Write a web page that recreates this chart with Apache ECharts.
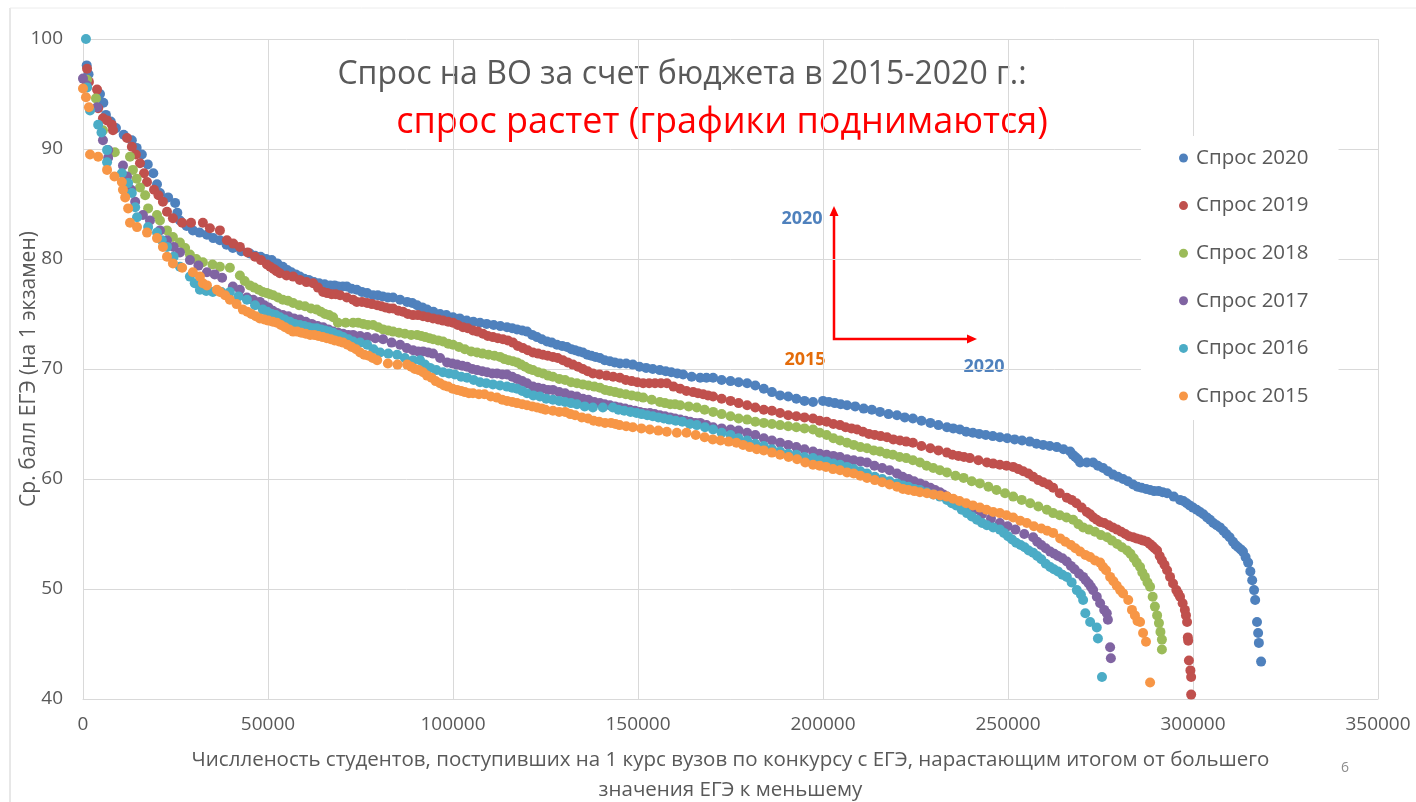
<!DOCTYPE html>
<html><head><meta charset="utf-8">
<script src="https://cdn.jsdelivr.net/npm/echarts@6/dist/echarts.min.js"></script>
<style>html,body{margin:0;padding:0;background:#fff;overflow:hidden}#c{width:1416px;height:802px}</style>
</head><body><div id="c"></div>
<script>
const seriesNames = ['Спрос 2020','Спрос 2019','Спрос 2018','Спрос 2017','Спрос 2016','Спрос 2015'];
const xTicks = [0,50000,100000,150000,200000,250000,300000,350000];
const yTicks = [40,50,60,70,80,90,100];

const s2020 = [[1000,97.6],[1500,96.8],[4600,95.0],[5500,94.2],[6200,93.1],[7500,92.5],[8900,91.9],[11000,91.3],[13200,90.8],[14500,90.1],[15900,89.5],[17500,88.6],[19000,87.8],[20000,86.8],[20800,86.0],[23000,85.6],[24900,85.1],[25500,84.2],[26200,83.5],[28000,83.0],[29700,82.6],[31500,82.4],[33500,82.2],[35200,81.9],[37000,81.7],[38800,81.3],[40500,81.0],[42800,80.7],[45100,80.5],[46500,80.3],[48000,80.2],[49500,80.0],[51000,79.9],[52500,79.6],[54000,79.3],[55200,79.0],[56300,78.8],[57500,78.6],[58600,78.4],[59800,78.2],[61000,78.1],[62400,77.9],[63800,77.8],[65300,77.7],[66800,77.6],[68000,77.6],[69000,77.5],[70200,77.5],[71300,77.5],[72600,77.3],[74000,77.2],[75400,77.0],[76800,76.9],[78400,76.7],[79700,76.7],[81000,76.6],[82400,76.5],[83800,76.5],[85700,76.3],[87600,76.1],[89000,76.0],[90300,75.8],[91700,75.6],[93000,75.4],[94700,75.2],[96500,75.0],[98200,74.9],[100000,74.7],[101800,74.6],[103700,74.4],[105500,74.3],[107300,74.2],[109100,74.1],[111000,74.0],[112800,73.9],[114600,73.8],[116000,73.7],[117300,73.6],[118700,73.5],[120000,73.4],[121400,73.1],[122700,72.9],[124000,72.7],[125400,72.5],[126700,72.4],[128100,72.2],[129500,72.1],[130800,72.0],[132000,71.8],[133000,71.7],[134000,71.6],[135100,71.5],[136300,71.3],[137400,71.2],[138500,71.1],[139700,71.0],[141000,70.8],[142400,70.7],[143700,70.6],[145100,70.5],[146800,70.5],[148600,70.4],[150400,70.2],[152200,70.1],[154000,70.0],[155900,69.9],[157500,69.8],[159000,69.7],[160600,69.6],[162200,69.5],[164500,69.3],[166800,69.2],[168500,69.2],[170300,69.2],[172600,69.0],[175000,68.9],[177200,68.8],[179500,68.7],[181700,68.5],[184000,68.2],[186200,67.9],[188400,67.6],[190600,67.5],[192800,67.3],[195000,67.1],[197300,67.0],[200000,67.1],[201600,67.0],[203200,66.9],[204800,66.8],[206500,66.7],[208700,66.6],[211000,66.4],[213200,66.3],[215400,66.1],[217700,65.9],[220000,65.8],[222100,65.6],[224300,65.5],[226600,65.3],[229000,65.1],[231200,64.9],[233500,64.7],[235200,64.6],[237000,64.5],[238700,64.3],[240500,64.2],[242200,64.1],[244000,64.0],[245900,63.9],[247800,63.8],[249800,63.7],[251800,63.6],[253800,63.5],[255900,63.4],[257700,63.2],[259500,63.1],[261300,63.0],[263200,62.9],[265000,62.7],[266800,62.5],[267500,62.2],[268200,62.0],[268900,61.8],[269500,61.5],[271300,61.5],[273000,61.5],[274300,61.2],[275700,61.0],[277000,60.7],[278400,60.4],[279700,60.2],[281100,60.0],[282400,59.8],[283800,59.5],[285000,59.3],[286100,59.2],[287300,59.1],[288400,59.0],[289500,58.9],[290700,58.9],[291800,58.8],[293000,58.7],[294800,58.4],[296500,58.1],[297400,58.0],[298300,57.8],[299100,57.6],[300000,57.4],[301000,57.2],[301900,57.0],[302800,56.8],[303800,56.5],[304600,56.3],[305500,56.0],[306400,55.8],[307300,55.6],[308200,55.3],[309000,55.0],[309900,54.7],[310800,54.3],[311500,54.0],[312200,53.8],[312900,53.6],[313500,53.4],[314200,52.9],[314900,52.4],[315500,51.6],[316000,50.8],[316500,49.9],[316800,49.0],[317300,47.0],[317600,46.0],[317800,45.1],[318400,43.4]];

const s2019 = [[1100,97.3],[1600,96.1],[3800,95.4],[4100,93.7],[5400,92.8],[6500,92.6],[7800,92.2],[8100,91.7],[11900,91.0],[13200,90.2],[14300,89.5],[15400,88.7],[16500,87.8],[17300,87.0],[19200,86.3],[20400,85.8],[21600,85.2],[22700,84.3],[24300,83.7],[26800,83.3],[29200,83.3],[32400,83.3],[34300,82.8],[37000,82.6],[38900,81.7],[40600,81.4],[42400,81.1],[44500,80.6],[46500,80.2],[48100,79.9],[49700,79.5],[50600,79.3],[51500,79.1],[52300,78.9],[53200,78.7],[55000,78.5],[56800,78.4],[58600,78.1],[60400,77.9],[62200,77.8],[63500,77.4],[64900,77.0],[66000,76.9],[67200,76.8],[68300,76.8],[69500,76.7],[71300,76.5],[73000,76.3],[74000,76.1],[75400,76.1],[76800,76.0],[78100,75.9],[79500,75.8],[80600,75.7],[81700,75.6],[82800,75.5],[83800,75.5],[85200,75.3],[86500,75.2],[87800,75.0],[89200,74.9],[90500,74.9],[91900,74.8],[93200,74.7],[94600,74.6],[96000,74.5],[97300,74.4],[98700,74.3],[100000,74.2],[101300,74.0],[102700,73.8],[104000,73.7],[105400,73.5],[106700,73.4],[108100,73.2],[109400,73.0],[110800,72.9],[112100,72.8],[113500,72.7],[114800,72.6],[116200,72.4],[117500,72.1],[118900,71.9],[120200,71.7],[121600,71.5],[123000,71.4],[124300,71.3],[125600,71.2],[127000,71.1],[128300,71.0],[129700,70.8],[131000,70.6],[132400,70.4],[133800,70.2],[135100,70.0],[136400,69.8],[137800,69.6],[139600,69.5],[141500,69.4],[143300,69.3],[145100,69.2],[146700,69.0],[148300,68.9],[149800,68.8],[151400,68.7],[153000,68.7],[154600,68.7],[156200,68.7],[157800,68.7],[159600,68.4],[161400,68.2],[163100,68.0],[164900,67.9],[166200,67.8],[167600,67.7],[168900,67.6],[170300,67.5],[172600,67.3],[175000,67.1],[177200,66.9],[179500,66.7],[181700,66.5],[184000,66.3],[186200,66.2],[188400,66.0],[190600,65.8],[192800,65.7],[195000,65.6],[197300,65.5],[199100,65.3],[201000,65.2],[202800,65.0],[204600,64.9],[206100,64.7],[207700,64.6],[209200,64.5],[210800,64.3],[212400,64.1],[214000,64.0],[215600,63.9],[217300,63.8],[219000,63.6],[220800,63.5],[222500,63.4],[224300,63.3],[226600,63.0],[229000,62.8],[231200,62.6],[233500,62.4],[235000,62.2],[236600,62.1],[238100,62.0],[239700,61.9],[242000,61.7],[244300,61.5],[246000,61.4],[247800,61.3],[249600,61.2],[251400,61.1],[252800,60.9],[254100,60.7],[255500,60.5],[256800,60.2],[258200,59.9],[259500,59.7],[260900,59.5],[262200,59.2],[264000,58.7],[265900,58.3],[267200,58.1],[268500,57.8],[269900,57.4],[271300,57.0],[272200,56.8],[273100,56.5],[274000,56.3],[274900,56.1],[276000,56.0],[277200,55.8],[278300,55.6],[279500,55.4],[280600,55.2],[281700,55.0],[282700,54.8],[283800,54.7],[284700,54.6],[285700,54.5],[286600,54.4],[287600,54.3],[288300,54.1],[289000,53.9],[289600,53.7],[290300,53.5],[291000,53.0],[291600,52.6],[292300,52.2],[293000,51.7],[293800,51.1],[294600,50.5],[295500,49.9],[296000,49.6],[296500,49.3],[297200,48.7],[297800,48.1],[298100,47.6],[298400,47.0],[298600,45.6],[298700,45.3],[298900,43.5],[299300,42.6],[299500,42.0],[299500,40.4]];

const s2018 = [[1100,96.3],[3500,94.6],[5400,91.7],[8600,89.7],[12700,89.3],[13500,88.1],[14500,87.3],[15400,86.5],[16800,85.8],[17600,84.6],[20000,84.0],[20800,83.5],[22700,82.6],[24300,82.0],[26200,81.5],[27600,81.0],[28900,80.4],[30600,80.0],[32400,79.7],[35000,79.5],[37000,79.3],[39700,79.2],[42400,78.5],[43700,78.0],[45100,77.6],[46300,77.4],[47500,77.2],[48600,77.0],[49700,76.9],[50500,76.8],[51400,76.7],[52700,76.5],[54000,76.3],[55400,76.2],[56800,76.0],[58400,75.8],[60000,75.7],[61600,75.5],[63200,75.4],[64300,75.2],[65400,75.0],[66500,74.9],[67600,74.7],[68900,74.2],[71000,74.2],[73000,74.2],[74400,74.2],[75700,74.1],[77000,74.0],[78400,74.0],[79800,73.8],[81100,73.6],[82500,73.5],[83800,73.4],[85400,73.3],[87000,73.2],[88700,73.1],[90300,73.1],[91400,73.0],[92500,72.9],[93600,72.8],[94600,72.7],[96000,72.6],[97300,72.5],[98700,72.3],[100000,72.2],[101600,72.0],[103200,71.8],[104900,71.6],[106500,71.5],[108000,71.4],[109600,71.3],[111200,71.2],[112700,71.1],[113900,70.9],[115000,70.8],[116200,70.7],[117300,70.6],[118400,70.4],[119500,70.2],[120600,70.0],[121600,69.9],[123000,69.7],[124300,69.6],[125700,69.4],[127000,69.3],[128700,69.1],[130300,69.0],[131900,68.8],[133500,68.7],[135100,68.6],[136600,68.5],[138200,68.4],[139700,68.3],[141100,68.1],[142400,68.0],[143800,67.9],[145100,67.8],[146700,67.7],[148300,67.6],[149900,67.5],[151400,67.4],[153700,67.2],[155900,67.0],[157300,66.9],[158700,66.8],[160000,66.8],[161400,66.7],[163700,66.6],[165900,66.5],[168000,66.3],[170300,66.1],[172600,65.9],[175000,65.7],[177200,65.5],[179500,65.4],[181700,65.2],[184000,65.1],[186200,65.0],[188400,64.9],[190600,64.8],[192800,64.7],[195000,64.6],[197300,64.5],[199100,64.2],[201000,64.0],[202800,63.7],[204600,63.5],[206500,63.3],[208300,63.1],[210100,62.9],[211900,62.8],[213700,62.6],[215400,62.5],[217200,62.3],[218900,62.2],[220700,62.0],[222500,61.9],[224300,61.7],[226200,61.5],[228000,61.2],[229800,61.0],[231600,60.8],[233500,60.6],[235800,60.3],[238000,60.1],[240200,59.8],[242400,59.6],[244700,59.3],[246900,59.0],[249200,58.7],[251400,58.4],[253700,58.1],[256000,57.8],[258200,57.5],[260500,57.2],[262200,56.9],[264000,56.7],[265800,56.5],[267600,56.3],[269000,55.9],[270300,55.6],[271900,55.4],[273500,55.2],[275100,54.9],[276800,54.7],[278100,54.4],[279500,54.1],[280800,53.8],[282200,53.5],[283100,53.2],[284000,52.8],[284800,52.4],[285700,52.0],[286300,51.5],[287000,51.1],[287700,50.6],[288400,50.2],[289100,49.3],[289700,48.4],[290300,47.6],[290800,46.9],[291200,46.1],[291600,45.4],[291600,44.5]];

const s2017 = [[0,96.4],[1000,95.8],[3800,93.8],[5400,90.8],[6800,89.9],[6800,89.2],[10800,88.5],[11900,87.5],[13000,86.3],[14100,85.2],[16200,84.0],[18100,83.5],[20800,82.6],[22700,81.7],[24500,81.1],[26200,80.6],[28900,79.9],[31200,79.4],[33500,78.8],[35600,78.6],[37600,78.3],[40500,77.5],[42400,77.2],[44300,76.5],[46000,76.3],[47800,76.1],[49000,75.8],[50100,75.6],[51300,75.3],[52400,75.1],[54000,74.9],[55500,74.8],[57000,74.6],[58600,74.5],[60200,74.3],[61800,74.1],[63400,73.9],[64900,73.8],[66300,73.6],[67600,73.4],[69000,73.3],[70300,73.2],[71700,73.1],[73000,73.1],[74900,73.0],[76800,72.9],[79000,72.8],[81100,72.7],[83400,72.4],[85700,72.2],[87500,71.9],[89200,71.7],[90600,71.6],[91900,71.6],[93300,71.5],[94600,71.4],[96500,71.0],[98400,70.6],[99800,70.5],[101100,70.4],[102500,70.3],[103800,70.2],[105200,70.0],[106500,69.9],[107900,69.8],[109200,69.7],[110600,69.6],[111900,69.6],[113300,69.5],[114600,69.5],[116000,69.3],[117300,69.1],[118700,68.9],[120000,68.7],[121600,68.4],[123000,68.3],[124300,68.2],[125700,68.1],[127000,68.1],[128700,67.9],[130300,67.8],[131900,67.6],[133500,67.5],[135100,67.3],[136600,67.2],[138200,67.0],[139700,66.9],[141000,66.8],[142400,66.7],[143800,66.6],[145100,66.5],[146500,66.4],[147800,66.3],[149200,66.2],[150500,66.1],[151800,66.0],[153200,66.0],[154500,65.9],[155900,65.8],[157300,65.7],[158700,65.6],[160000,65.5],[161400,65.4],[162800,65.3],[164100,65.2],[165500,65.1],[166800,65.1],[168500,64.9],[170300,64.7],[172600,64.6],[175000,64.5],[177200,64.4],[179500,64.2],[181700,64.0],[184000,63.7],[186200,63.5],[188400,63.3],[190600,63.1],[192800,62.9],[195000,62.7],[197300,62.5],[199100,62.3],[201000,62.2],[202800,62.1],[204600,62.0],[206500,61.8],[208300,61.7],[210100,61.6],[211900,61.5],[213900,61.2],[216000,61.0],[218000,60.8],[220000,60.5],[221500,60.2],[223100,60.0],[224600,59.8],[226200,59.6],[227600,59.4],[229000,59.2],[230300,59.0],[231600,58.8],[232500,58.6],[233500,58.4],[235100,58.1],[237000,57.8],[238900,57.5],[241000,57.2],[243000,56.8],[245400,56.4],[247800,56.0],[249900,55.7],[252000,55.4],[254400,55.0],[256800,54.7],[257900,54.3],[259000,54.0],[260200,53.7],[261400,53.4],[262500,53.2],[263500,53.0],[264700,52.8],[265900,52.5],[267000,52.1],[268000,51.8],[269200,51.4],[270300,51.1],[271000,50.8],[271800,50.5],[272400,50.2],[273000,49.9],[274000,49.3],[274900,48.7],[276000,48.1],[276700,47.8],[277000,47.2],[277600,44.7],[277800,43.7]];

const s2016 = [[800,100.0],[1100,95.6],[1900,93.5],[4100,92.2],[5000,91.5],[6500,89.9],[6500,88.8],[10500,87.8],[12200,86.9],[13200,86.0],[14100,84.7],[14600,83.8],[17600,82.9],[20000,82.4],[21300,81.7],[22700,81.1],[24500,80.2],[26200,79.3],[28900,78.4],[30200,77.8],[31600,77.2],[33300,77.1],[35100,77.0],[37400,77.0],[39700,77.0],[42000,76.6],[44300,76.3],[46500,75.8],[48600,75.4],[49800,75.2],[51000,75.0],[52100,74.9],[53200,74.7],[54500,74.5],[55900,74.3],[57200,74.1],[58600,74.0],[59800,73.9],[61000,73.8],[62100,73.7],[63200,73.7],[64300,73.6],[65400,73.5],[66500,73.4],[67600,73.3],[69000,73.1],[70300,72.9],[71700,72.7],[73000,72.5],[74900,72.4],[76800,72.2],[78500,71.8],[80300,71.5],[82500,71.4],[84900,71.3],[87000,71.0],[89200,70.8],[91100,70.8],[92400,70.4],[93800,70.1],[95500,69.9],[97300,69.7],[98900,69.6],[100500,69.5],[102200,69.3],[103800,69.2],[105600,69.0],[107300,68.8],[109000,68.7],[110800,68.6],[112700,68.5],[114600,68.4],[116000,68.3],[117300,68.2],[118700,68.0],[120000,67.8],[121700,67.6],[123500,67.5],[125200,67.3],[127000,67.2],[128700,67.1],[130300,67.0],[131900,66.9],[133500,66.8],[135600,66.6],[137800,66.5],[140500,66.5],[143200,66.5],[144700,66.3],[146300,66.2],[148000,66.1],[149600,66.0],[151000,65.9],[152500,65.8],[154000,65.7],[155500,65.6],[157000,65.5],[158500,65.4],[160200,65.3],[162000,65.2],[164000,65.0],[165900,64.9],[168100,64.7],[170300,64.5],[172600,64.2],[175000,64.0],[177200,63.7],[179500,63.5],[181700,63.2],[184000,63.0],[186200,62.7],[188400,62.5],[190600,62.3],[192800,62.2],[195000,62.0],[197300,61.9],[199100,61.7],[201000,61.6],[202800,61.4],[204600,61.3],[206500,61.1],[208300,60.9],[210100,60.7],[211900,60.5],[214000,60.2],[216000,60.0],[218000,59.8],[220000,59.6],[221600,59.4],[223100,59.3],[224700,59.1],[226200,59.0],[228000,58.8],[229800,58.6],[231600,58.4],[233500,58.1],[234800,57.8],[236000,57.6],[237500,57.2],[238900,56.9],[240200,56.6],[241600,56.3],[243000,56.0],[244300,55.8],[246000,55.6],[247800,55.4],[248900,55.1],[250000,54.8],[251100,54.5],[252200,54.2],[253400,54.0],[254500,53.8],[255600,53.5],[256800,53.3],[257900,53.0],[259000,52.7],[260200,52.3],[261400,52.0],[262400,51.8],[263500,51.6],[264700,51.3],[265900,51.1],[267200,50.6],[268600,49.9],[269700,49.5],[270300,49.0],[270900,47.8],[272200,47.0],[274000,46.5],[274300,45.5],[275400,42.0]];

const s2015 = [[0,95.5],[800,94.7],[1600,93.8],[1900,89.5],[4100,89.3],[6500,88.1],[8500,87.5],[10500,87.0],[10800,86.3],[11400,85.6],[12200,84.6],[12700,83.3],[14600,82.9],[17300,82.4],[20000,81.9],[21600,81.1],[22700,80.2],[24300,79.6],[26800,79.2],[29700,78.8],[31600,78.4],[32400,77.8],[33500,77.6],[36200,77.2],[37000,77.0],[38400,76.7],[39700,76.3],[41500,75.9],[43200,75.4],[44400,75.2],[45500,75.0],[46700,74.8],[47800,74.6],[49000,74.5],[50100,74.4],[51300,74.3],[52400,74.2],[53500,74.0],[54600,73.8],[55700,73.6],[56800,73.4],[57900,73.4],[59000,73.3],[60200,73.2],[61400,73.1],[62500,73.1],[63600,73.0],[64800,72.9],[65900,72.8],[67000,72.7],[68000,72.6],[69200,72.5],[70300,72.4],[71500,72.2],[72600,72.0],[73800,71.8],[74900,71.5],[76000,71.3],[77200,71.2],[78300,71.0],[79500,70.8],[82400,70.5],[85000,70.4],[87600,70.4],[88700,70.2],[89700,70.0],[90800,69.9],[91900,69.7],[93000,69.4],[94200,69.2],[95300,68.9],[96500,68.7],[97600,68.5],[98700,68.4],[99900,68.2],[101100,68.1],[102200,68.0],[103200,67.9],[104300,67.8],[105400,67.8],[107000,67.7],[108500,67.7],[110200,67.5],[111900,67.4],[113300,67.2],[114600,67.1],[116000,67.0],[117300,66.9],[118700,66.8],[120000,66.7],[121400,66.6],[122700,66.5],[124000,66.4],[125000,66.3],[127000,66.2],[128700,66.1],[130300,66.1],[131700,65.9],[133000,65.8],[134800,65.6],[136500,65.5],[138000,65.3],[139500,65.2],[141100,65.1],[142700,65.1],[143900,65.0],[145000,64.9],[146800,64.8],[148600,64.7],[150900,64.6],[153200,64.5],[155500,64.4],[157800,64.3],[160500,64.2],[163100,64.2],[165600,64.0],[168000,63.8],[170200,63.6],[172300,63.5],[174500,63.4],[176600,63.3],[178400,63.1],[180200,62.9],[182100,62.7],[184000,62.6],[186200,62.4],[188400,62.2],[190700,62.0],[193000,61.8],[195200,61.5],[197300,61.3],[199100,61.2],[200800,61.1],[202700,60.9],[204600,60.8],[206500,60.6],[208300,60.5],[210100,60.3],[211900,60.1],[214000,59.9],[216000,59.7],[218000,59.5],[220000,59.3],[221600,59.1],[223100,59.0],[224700,58.9],[226200,58.8],[228100,58.7],[229900,58.6],[231700,58.5],[233500,58.4],[235200,58.2],[236900,58.0],[238700,57.8],[240500,57.6],[242400,57.4],[244200,57.2],[246000,57.0],[247800,56.9],[249600,56.7],[251400,56.5],[253300,56.2],[255100,56.0],[257000,55.7],[259000,55.5],[260600,55.3],[262200,55.1],[264100,54.6],[265500,54.3],[267000,54.0],[268200,53.7],[269500,53.4],[270900,53.1],[272200,52.9],[273500,52.6],[274900,52.4],[275700,52.0],[276500,51.7],[277600,51.1],[278500,50.7],[279400,50.3],[280300,49.9],[281100,49.6],[282500,49.0],[283500,48.1],[284300,47.6],[285000,47.1],[285700,47.0],[286500,46.0],[287300,45.2],[288400,41.5]];

const seriesData = [s2020, s2019, s2018, s2017, s2016, s2015];
const colors = ['#4F81BD','#C0504D','#9BBB59','#8064A2','#4BACC6','#F79646'];

const FONT = '"Open Sans", "Noto Sans", sans-serif';
const chart = echarts.init(document.getElementById('c'), null, {renderer: 'canvas', width: 1416, height: 802});

chart.setOption({
  animation: false,
  color: colors,
  textStyle: {fontFamily: FONT},
  grid: {left: 83, top: 39, width: 1295, height: 660, containLabel: false, outerBoundsMode: 'none'},
  xAxis: {
    type: 'value', min: xTicks[0], max: xTicks[xTicks.length-1], interval: 50000,
    axisLine: {show: true, lineStyle: {color: '#d9d9d9', width: 1}},
    axisTick: {show: false},
    splitLine: {show: true, lineStyle: {color: '#d9d9d9', width: 1}},
    axisLabel: {color: '#595959', fontSize: 19, margin: 16, fontFamily: FONT, formatter: v => String(v)},
    name: 'Числленость студентов, поступивших на 1 курс вузов по конкурсу с ЕГЭ, нарастающим итогом от большего\nзначения ЕГЭ к меньшему',
    nameLocation: 'middle', nameGap: 46, nameMoveOverlap: false,
    nameTextStyle: {color: '#595959', fontSize: 20.5, lineHeight: 30, fontFamily: FONT}
  },
  yAxis: {
    type: 'value', min: yTicks[0], max: yTicks[yTicks.length-1], interval: 10,
    axisLine: {show: true, lineStyle: {color: '#d9d9d9', width: 1}},
    axisTick: {show: false},
    splitLine: {show: true, lineStyle: {color: '#d9d9d9', width: 1}},
    axisLabel: {color: '#595959', fontSize: 19, margin: 20, fontFamily: FONT, formatter: v => String(v)},
    name: 'Ср. балл ЕГЭ (на 1 экзамен)',
    nameLocation: 'middle', nameGap: 43, nameRotate: 90, nameMoveOverlap: false,
    nameTextStyle: {color: '#595959', fontSize: 21, fontFamily: FONT}
  },
  legend: {
    orient: 'vertical', left: 1141, top: 136,
    backgroundColor: '#ffffff',
    padding: [10, 30, 12, 38],
    itemGap: 23.6, itemWidth: 9, itemHeight: 9, icon: 'circle',
    textStyle: {color: '#595959', fontSize: 20.5, lineHeight: 24, fontFamily: FONT, padding: [0,0,0,3]},
    data: seriesNames
  },
  series: seriesData.map((d, i) => ({
    name: seriesNames[i], type: 'scatter', data: d,
    symbol: 'circle', symbolSize: 10,
    itemStyle: {color: colors[i], opacity: 1},
    emphasis: {disabled: true}
  })),
  graphic: [
    {type: 'line', shape: {x1: 10, y1: 8, x2: 10, y2: 802}, style: {stroke: '#d0d0d0', lineWidth: 1}},
    {type: 'line', shape: {x1: 10, y1: 8, x2: 1416, y2: 8}, style: {stroke: '#ececec', lineWidth: 1}},
    {type: 'text', style: {text: 'Спрос на ВО за счет бюджета в 2015-2020 г.:', x: 682, y: 75, textAlign: 'center', textVerticalAlign: 'middle', fill: '#595959', font: '32px ' + FONT}},
    {type: 'text', style: {text: 'спрос растет (графики поднимаются)', x: 722, y: 123, textAlign: 'center', textVerticalAlign: 'middle', fill: '#FF0000', font: '36px ' + FONT}},
    {type: 'polyline', shape: {points: [[834, 214], [834, 339], [968, 339]]}, style: {stroke: '#FF0000', lineWidth: 2.5, fill: null}},
    {type: 'polygon', shape: {points: [[834, 206], [829.5, 216], [838.5, 216]]}, style: {fill: '#FF0000'}},
    {type: 'polygon', shape: {points: [[977, 339], [967, 334.5], [967, 343.5]]}, style: {fill: '#FF0000'}},
    {type: 'text', style: {text: '2020', x: 802, y: 219, textAlign: 'center', textVerticalAlign: 'middle', fill: '#4F81BD', font: 'bold 18px ' + FONT}},
    {type: 'text', style: {text: '2015', x: 805, y: 360, textAlign: 'center', textVerticalAlign: 'middle', fill: '#E46C0A', font: 'bold 18px ' + FONT}},
    {type: 'text', style: {text: '2020', x: 984, y: 367, textAlign: 'center', textVerticalAlign: 'middle', fill: '#4F81BD', font: 'bold 18px ' + FONT}},
    {type: 'text', style: {text: '6', x: 1345, y: 768, textAlign: 'center', textVerticalAlign: 'middle', fill: '#8c8c8c', font: '14px ' + FONT}}
  ]
});
</script>
</body></html>
